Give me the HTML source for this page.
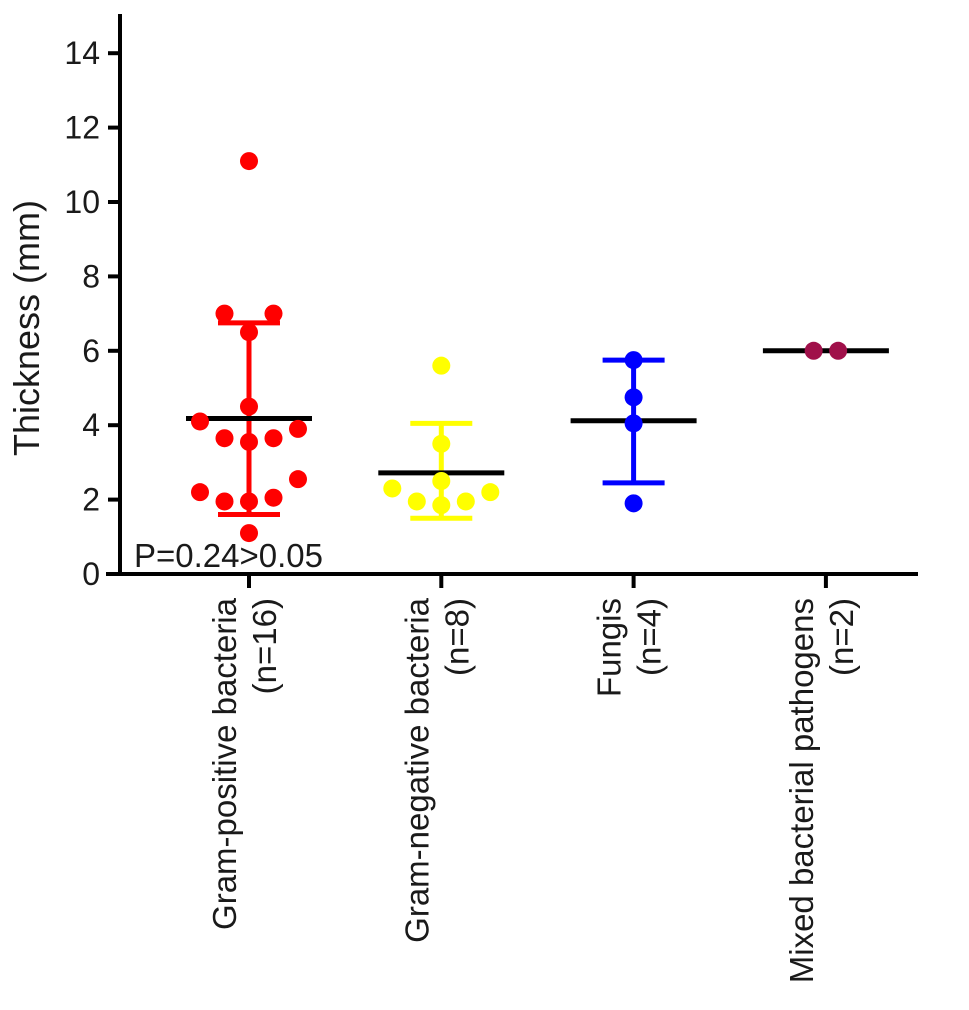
<!DOCTYPE html>
<html><head><meta charset="utf-8"><style>
body{margin:0;background:#fff;}
svg text{font-family:"Liberation Sans",sans-serif;fill:#1a1a1a;}
</style></head><body>
<svg id="chart" width="969" height="1005" xmlns="http://www.w3.org/2000/svg"></svg>
<script>
const categories=["Gram-positive bacteria","Gram-negative bacteria","Fungis","Mixed bacterial pathogens"];
const counts=["(n=16)","(n=8)","(n=4)","(n=2)"];
const colors=["#ff0000","#ffff00","#0000ff","#a0104a"];
const gramPos=[11.1,7.0,7.0,6.5,4.5,4.1,3.9,3.65,3.65,3.55,2.55,2.2,1.95,1.95,2.05,1.1];
const gramPosSlot=[0,-1,1,0,0,-2,2,-1,1,0,2,-2,-1,0,1,0];
const gramNeg=[5.6,3.5,2.5,2.3,1.95,1.85,1.95,2.2];
const gramNegSlot=[0,0,0,-2,-1,0,1,2];
const fungi=[5.75,4.75,4.05,1.9];
const fungiSlot=[0,0,0,0];
const mixed=[6.0,6.0];
const mixedSlot=[-0.5,0.5];
const means=[4.18,2.72,4.12,6.0];
const sdLow=[1.6,1.5,2.45,6.0];
const sdHigh=[6.75,4.05,5.75,6.0];
const yTicks=[0,2,4,6,8,10,12,14];
const pText="P=0.24>0.05";

const svg=document.getElementById('chart');
const NS="http://www.w3.org/2000/svg";
const y0=574, yUnit=37.2, x0=249, xStep=192.3, slotW=24.5;
const yS=v=>y0-v*yUnit;
const xS=i=>x0+i*xStep;
function mk(tag,attrs,parent){const e=document.createElementNS(NS,tag);for(const k in attrs)e.setAttribute(k,attrs[k]);(parent||svg).appendChild(e);return e;}

let ya=mk('line',{x1:120,y1:14,x2:120,y2:576,stroke:'#000','stroke-width':4});


let xa=mk('line',{x1:106,y1:574,x2:918,y2:574,stroke:'#000','stroke-width':4});


yTicks.forEach(t=>{
  let tk=mk('line',{x1:108,y1:yS(t),x2:120,y2:yS(t),stroke:'#000','stroke-width':4});
  
  
  let tl=mk('text',{x:100,y:yS(t)+11,'text-anchor':'end','font-size':32});
  tl.textContent=t;
  
  
});
let yt=mk('text',{x:0,y:0,'text-anchor':'middle','font-size':36,transform:'translate(39,328) rotate(-90)'});
yt.textContent="Thickness (mm)";



categories.forEach((c,i)=>{
  let tk=mk('line',{x1:xS(i),y1:574,x2:xS(i),y2:588,stroke:'#000','stroke-width':4});
  
  
  let g=mk('text',{x:0,y:0,'text-anchor':'end','font-size':33,transform:`translate(${xS(i)},598) rotate(-90)`});
  
  
  let t1=mk('tspan',{x:0,y:-13},g);t1.textContent=c;
  let t2=mk('tspan',{x:0,y:27},g);t2.textContent=counts[i];
});

const groups=[[gramPos,gramPosSlot],[gramNeg,gramNegSlot],[fungi,fungiSlot],[mixed,mixedSlot]];
groups.forEach((gr,i)=>{
  const col=colors[i], cx=xS(i);
  if(sdHigh[i]>sdLow[i]){
    let v=mk('line',{x1:cx,y1:yS(sdLow[i]),x2:cx,y2:yS(sdHigh[i]),stroke:col,'stroke-width':5});
    
    
    [sdLow[i],sdHigh[i]].forEach(s=>{
      let c=mk('line',{x1:cx-31,y1:yS(s),x2:cx+31,y2:yS(s),stroke:col,'stroke-width':5});
      
      
    });
  }
  let m=mk('line',{x1:cx-63,y1:yS(means[i]),x2:cx+63,y2:yS(means[i]),stroke:'#000','stroke-width':5});
  
  
  gr[0].forEach((v,j)=>{
    let p=mk('circle',{cx:cx+gr[1][j]*slotW,cy:yS(v),r:9,fill:col});
    
    
  });
});
let pt=mk('text',{x:134,y:567,'font-size':33});
pt.textContent=pText;


</script>
</body></html>
